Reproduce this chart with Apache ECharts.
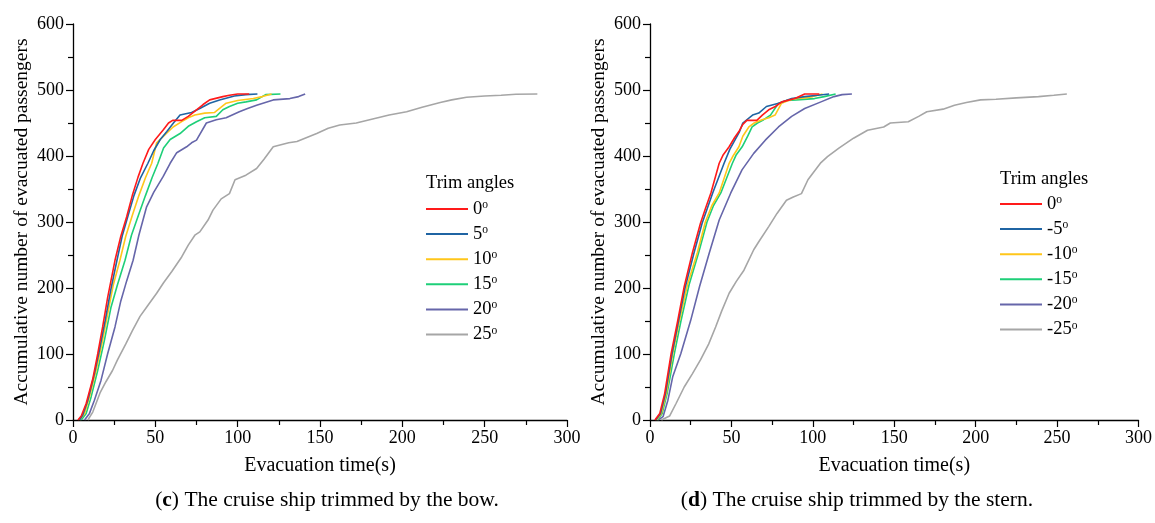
<!DOCTYPE html>
<html>
<head>
<meta charset="utf-8">
<script src="https://cdn.jsdelivr.net/npm/echarts@6/dist/echarts.min.js"></script>
<style>
  html, body { margin: 0; padding: 0; background: #fff; }
  #chart { width: 1155px; height: 523px; }
</style>
</head>
<body>
<div id="chart"></div>
<script>
// [time (s), evacuated passengers]

// (c) trimmed by the bow
const bow0 = [[3,0],[5,6],[8,25],[12,62],[15,100],[18,141],[21,185],[25.5,242],[29,278],[32.6,308],[36,340],[39.5,368],[42.5,389],[46,410],[50,425],[55,440],[58,450],[60.5,454],[66,454],[70,460],[75,470],[79,478],[83,485],[91,490],[95,492],[100,494],[107,494]];
const bow5 = [[4,0],[6,8],[9,30],[13,70],[16,105],[19.5,150],[23,198],[26.7,242],[30,280],[33.5,310],[37,340],[41,367],[45.5,389],[49,408],[53,425],[57,437],[61,450],[65,462],[72,466],[77,472],[83,480],[89,485],[98,491],[105,493],[112,494]];
const bow10 = [[4,0],[7,10],[10,35],[14,75],[17.5,115],[21,160],[24.5,205],[28.5,242],[32,278],[36,310],[40,340],[44,367],[47.8,389],[50.8,420],[55,430],[60.8,444],[66,452],[70,458],[74,462],[80,465],[86,466],[93,480],[100,484],[109.5,487],[115,490],[120.6,494]];
const bow15 = [[5,0],[8,10],[11,35],[15,75],[19,120],[23,170],[27,205],[31.6,242],[35.5,280],[40,312],[44,340],[48,367],[51.6,389],[55,412],[59,425],[65,434],[70,445],[75,452],[80,458],[87,460],[91,470],[95,475],[100,480],[105,482],[111.5,485],[117,493],[126,494]];
const bow20 = [[7,0],[10,10],[13,30],[17,60],[21,100],[25.5,141],[29,180],[32.5,210],[36.5,242],[40,280],[44.7,323],[49,345],[54.8,369],[59,389],[63,405],[69,414],[72,420],[75,424],[81,450],[87,455],[93,458],[101,467],[106,472],[111.5,477],[121.6,485],[131.7,487],[137,490],[141,494]];
const bow25 = [[9,0],[12,12],[16.4,41],[20,58],[24,75],[27,91],[32,115],[36,135],[40.7,157],[45,172],[50.8,192],[55,208],[60,225],[66,247],[70,265],[74,280],[77,285],[82,303],[85,318],[90,335],[95,343],[98.4,364],[105,371],[111.5,381],[116,395],[121.6,414],[131,420],[136,422],[148,434],[155,442],[162,447],[172,450],[182,456],[192,462],[202.6,467],[212,474],[223,481],[230,485],[239,489],[250,491],[260,492],[269,493.5],[282,494]];

// (d) trimmed by the stern
const stern0 = [[3,0],[6,10],[9,40],[13,101],[17,150],[21,202],[26,253],[31,298],[34,320],[37.4,344],[42.5,389],[45,402],[48.6,414],[52,428],[54.6,437],[57,448],[59.5,454],[65.6,454],[69,462],[72.9,470],[77,475],[81,482],[89,487],[95,494],[104,494]];
const stern5 = [[3.5,0],[6.5,10],[9.5,40],[13.5,100],[17.5,150],[21.5,200],[27,253],[32,298],[38.5,344],[45.5,389],[49,410],[55,437],[57,450],[63,462],[66.8,465],[71.5,475],[79,480],[87,487],[95,490],[103,492],[110,494]];
const stern10 = [[4,0],[7,10],[10,40],[14,101],[18,150],[23,205],[29,253],[34,300],[38,325],[42.5,344],[48.6,389],[51,400],[54.6,414],[57,430],[60.7,444],[64,450],[68.8,455],[73,458],[76.8,462],[80.8,480],[85,484],[89,487],[95,488],[100,490],[106,494]];
const stern15 = [[4.5,0],[7.5,10],[10.5,40],[15,101],[19,150],[24,205],[29.8,253],[35,300],[39,325],[43.5,344],[50.6,389],[53,402],[56.6,414],[60,430],[62.7,444],[66,450],[69.8,455],[74,462],[78.9,480],[84,484],[90,485],[101,487],[107,490],[114,494]];
const stern20 = [[5,0],[8,5],[11,30],[14,66],[19,101],[25,151],[30.4,202],[36.4,253],[42.5,303],[49.6,344],[56.5,379],[63.7,404],[70.8,424],[78.9,444],[87,460],[95,472],[105,482],[113,490],[118,493],[124,494]];
const stern25 = [[7,0],[12,6],[16,25],[21,50],[26,70],[31,91],[36,115],[40.3,141],[44,165],[48.6,192],[53,210],[57.7,227],[63.7,258],[66.8,270],[72.9,293],[78,313],[83.8,333],[88,338],[93,343],[97,364],[100,374],[105,390],[109,399],[116,412],[125,427],[133.6,439],[143.5,444],[147.6,450],[158.6,452],[165,460],[170,467],[180,471],[187,477],[194.3,481],[203,485],[212.5,486],[225,488],[238.6,490],[248,492],[256,494]];

const bowAngles = ["0", "5", "10", "15", "20", "25"];
const sternAngles = ["0", "-5", "-10", "-15", "-20", "-25"];
const xTicks = [0, 300, 50];
const yTicks = [0, 600, 100];

const colors = ["#ff1a1a", "#1f64a3", "#ffc61a", "#1ecf78", "#6666aa", "#a6a6a6"];
const serif = "Liberation Serif";

const bowData = [bow0, bow5, bow10, bow15, bow20, bow25];
const sternData = [stern0, stern5, stern10, stern15, stern20, stern25];

function xAxisFor(gridIndex) {
  return {
    type: "value", gridIndex,
    min: xTicks[0], max: xTicks[1], interval: xTicks[2],
    name: "Evacuation time(s)", nameLocation: "middle", nameGap: 36,
    nameTextStyle: { fontFamily: serif, fontSize: 20, color: "#000" },
    axisLine: { show: true, lineStyle: { color: "#000", width: 1.3 } },
    axisTick: { show: true, inside: false, length: 7, lineStyle: { color: "#000", width: 1.2 } },
    minorTick: { show: true, splitNumber: 2, length: 5, lineStyle: { color: "#000", width: 1.2 } },
    splitLine: { show: false },
    axisLabel: { fontFamily: serif, fontSize: 18, color: "#000", margin: 9 }
  };
}

function yAxisFor(gridIndex) {
  return {
    type: "value", gridIndex,
    min: yTicks[0], max: yTicks[1], interval: yTicks[2],
    name: "Accumulative number of evacuated passengers", nameLocation: "middle", nameGap: 41,
    nameTextStyle: { fontFamily: serif, fontSize: 19.5, color: "#000" },
    axisLine: { show: true, lineStyle: { color: "#000", width: 1.3 } },
    axisTick: { show: true, inside: false, length: 7, lineStyle: { color: "#000", width: 1.2 } },
    minorTick: { show: true, splitNumber: 2, length: 5, lineStyle: { color: "#000", width: 1.2 } },
    splitLine: { show: false },
    axisLabel: { fontFamily: serif, fontSize: 18, color: "#000", margin: 9 }
  };
}

function seriesFor(prefix, angles, data, axisIndex) {
  return angles.map((a, i) => ({
    name: prefix + a,
    type: "line",
    xAxisIndex: axisIndex, yAxisIndex: axisIndex,
    data: data[i],
    showSymbol: false,
    color: colors[i],
    lineStyle: { width: 1.6, color: colors[i] },
    z: 10 - i
  }));
}

function legendFor(prefix, angles, left, top) {
  return {
    data: angles.map(a => prefix + a),
    orient: "vertical", left, top, padding: 0,
    icon: "rect", itemWidth: 42, itemHeight: 2, itemGap: 5.6,
    formatter: name => "{n|" + name.slice(prefix.length) + "}{s|o}",
    textStyle: {
      fontFamily: serif, fontSize: 18, color: "#000",
      rich: {
        n: { fontFamily: serif, fontSize: 18.5, lineHeight: 20, color: "#000" },
        s: { fontFamily: serif, fontSize: 11.5, lineHeight: 20, verticalAlign: "top", color: "#000" }
      }
    }
  };
}

function textItem(text, x, y, size) {
  return {
    type: "text", x, y,
    style: { text, fontFamily: serif, fontSize: size, fill: "#000", align: "left", verticalAlign: "middle" }
  };
}

function caption(letter, rest, x) {
  return {
    type: "text", x, y: 500,
    style: {
      text: "{p|(}{b|" + letter + "}{p|) " + rest + "}",
      align: "center", verticalAlign: "middle",
      rich: {
        p: { fontFamily: serif, fontSize: 21.5, fill: "#000" },
        b: { fontFamily: serif, fontSize: 21.5, fontWeight: "bold", fill: "#000" }
      }
    }
  };
}

const chart = echarts.init(document.getElementById("chart"));
chart.setOption({
  animation: false,
  backgroundColor: "#fff",
  grid: [
    { left: 73, top: 24, width: 494, height: 396 },
    { left: 650, top: 24, width: 494, height: 396 }
  ],
  xAxis: [xAxisFor(0), xAxisFor(1)],
  yAxis: [yAxisFor(0), yAxisFor(1)],
  legend: [legendFor("c", bowAngles, 426, 199), legendFor("d", sternAngles, 1000, 194)],
  graphic: [
    textItem("Trim angles", 426, 183, 18.5),
    textItem("Trim angles", 1000, 179, 18.5),
    caption("c", "The cruise ship trimmed by the bow.", 327),
    caption("d", "The cruise ship trimmed by the stern.", 857)
  ],
  series: [
    ...seriesFor("c", bowAngles, bowData, 0),
    ...seriesFor("d", sternAngles, sternData, 1)
  ]
});
</script>
</body>
</html>
